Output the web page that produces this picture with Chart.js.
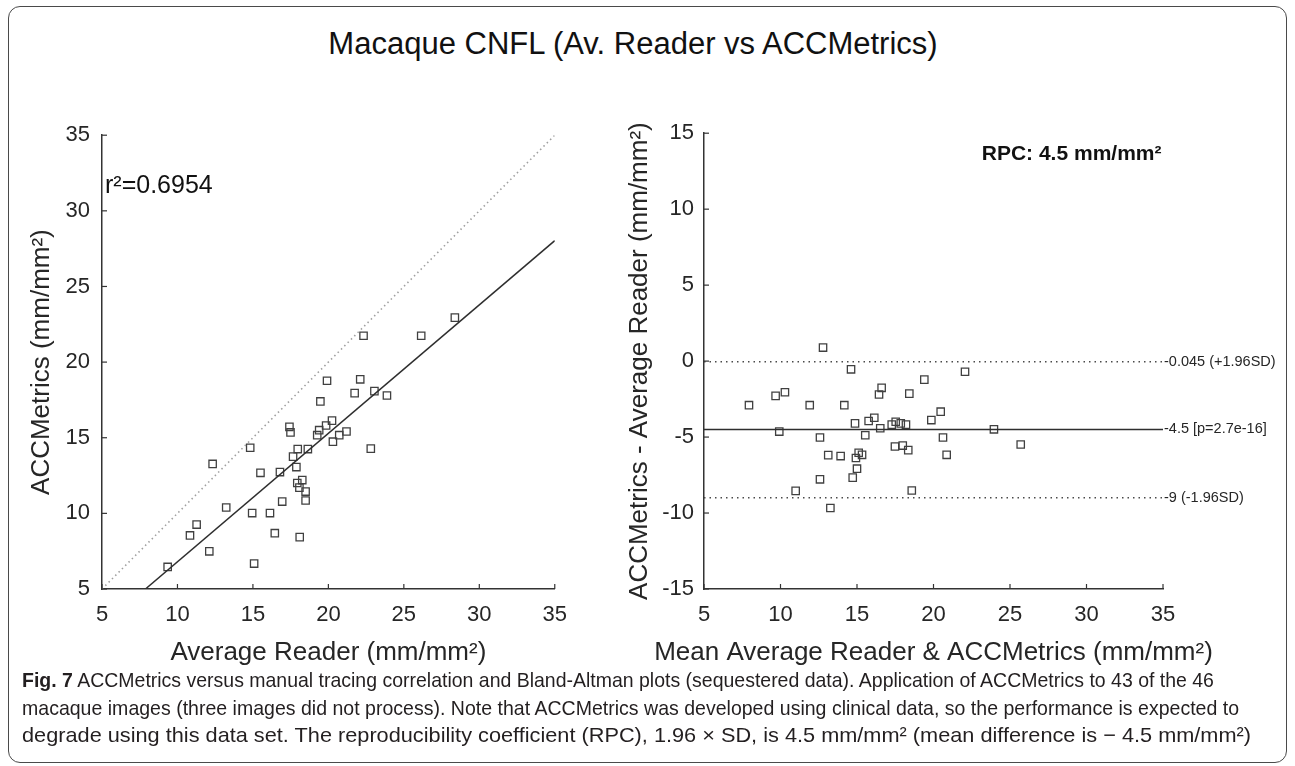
<!DOCTYPE html>
<html><head><meta charset="utf-8">
<script src="https://cdn.jsdelivr.net/npm/chart.js@4.4.1/dist/chart.umd.min.js"></script>
<style>
html,body{margin:0;padding:0;background:#fff;}
#wrap{position:relative;width:1295px;height:766px;overflow:hidden;font-family:"Liberation Sans",Arial,sans-serif;background:#fff;}
#frame{position:absolute;left:8px;top:6px;width:1279px;height:757px;border:1.5px solid #4a4a4a;border-radius:12px;box-sizing:border-box;}
#title{position:absolute;left:0;width:1266px;top:26px;text-align:center;font-size:31px;color:#111;line-height:36px;}
#c1{position:absolute;left:0;top:110px;}
#c2{position:absolute;left:620px;top:110px;}
.cap{position:absolute;left:22px;font-family:"Liberation Sans Narrow","Liberation Sans",Arial,sans-serif;font-size:21px;line-height:24px;white-space:nowrap;color:#231f20;transform-origin:0 50%;}
.cap b{font-weight:bold;}
</style>
</head><body>
<div id="wrap">
  <div id="frame"></div>
  <div id="title">Macaque CNFL (Av. Reader vs ACCMetrics)</div>
  <canvas id="c1" width="580" height="560"></canvas>
  <canvas id="c2" width="675" height="560"></canvas>
  <div class="cap" data-w="1192" style="top:668px"><b>Fig. 7</b> ACCMetrics versus manual tracing correlation and Bland-Altman plots (sequestered data). Application of ACCMetrics to 43 of the 46</div>
  <div class="cap" data-w="1217" style="top:696px">macaque images (three images did not process). Note that ACCMetrics was developed using clinical data, so the performance is expected to</div>
  <div class="cap" data-w="1229" style="top:723px">degrade using this data set. The reproducibility coefficient (RPC), 1.96 × SD, is 4.5 mm/mm² (mean difference is − 4.5 mm/mm²)</div>
</div>
<script>
// ---- Correlation plot data ----
const avgReader = [22.33,19.91,22.11,21.74,23.05,23.88,19.47,17.42,17.49,20.24,19.85,19.39,19.26,20.72,21.20,20.30,22.81,14.82,17.97,18.64,17.66,12.33,17.88,15.50,16.79,18.27,17.94,18.08,18.49,18.49,16.94,13.23,14.95,16.13,11.27,16.45,26.15,28.38,9.35,15.08,12.11,10.83,18.10];
const accMetrics = [21.74,18.77,18.86,17.95,18.08,17.79,17.40,15.72,15.35,16.13,15.81,15.50,15.17,15.17,15.41,14.74,14.28,14.34,14.25,14.25,13.75,13.27,13.06,12.68,12.73,12.20,12.01,11.70,11.44,10.85,10.78,10.39,10.02,10.02,9.26,8.69,21.74,22.94,6.46,6.68,7.49,8.54,8.43];
const identityX = [5,35];
const identityY = [5,35];
const fitX = [7.88,35];
const fitY = [5,28.03];
const corrTicks = [5,10,15,20,25,30,35];
const r2Label = "r²=0.6954";

// ---- Bland-Altman data ----
const baMean = [12.78,14.61,16.61,16.44,10.29,9.68,7.94,11.91,14.17,16.13,15.76,14.87,17.27,17.53,16.52,9.92,15.54,12.58,17.48,13.12,13.93,15.11,15.33,14.93,15.00,14.72,12.58,10.99,13.26,22.06,19.40,18.42,20.47,19.86,17.86,18.20,23.95,20.62,25.70,17.99,18.35,20.86,18.58];
const baDiff = [0.89,-0.54,-1.76,-2.20,-2.05,-2.29,-2.90,-2.90,-2.90,-3.73,-3.94,-4.10,-4.18,-3.99,-4.42,-4.64,-4.88,-5.03,-5.62,-6.19,-6.25,-6.03,-6.17,-6.38,-7.08,-7.67,-7.78,-8.54,-9.67,-0.70,-1.22,-2.14,-3.33,-3.88,-4.10,-4.18,-4.49,-5.03,-5.49,-5.56,-5.86,-6.17,-8.52];
const baLineX = [5,35];
const loaValues = [-0.045,-4.5,-9];
const loaLabels = ["-0.045 (+1.96SD)","-4.5 [p=2.7e-16]","-9 (-1.96SD)"];
const baXTicks = [5,10,15,20,25,30,35];
const baYTicks = [-15,-10,-5,0,5,10,15];
const rpcLabel = "RPC: 4.5 mm/mm²";

const FONT = '"Liberation Sans", Arial, sans-serif';
const AXC = '#333333';
const TXT = '#262626';

const inwardTicks = {
  id: 'inwardTicks',
  afterDraw(chart) {
    const ctx = chart.ctx, a = chart.chartArea;
    const xs = chart.scales.x, ys = chart.scales.y;
    ctx.save();
    ctx.strokeStyle = AXC; ctx.lineWidth = 1.2;
    xs.ticks.forEach(t => { const p = xs.getPixelForValue(t.value); ctx.beginPath(); ctx.moveTo(p, a.bottom); ctx.lineTo(p, a.bottom - 5); ctx.stroke(); });
    ys.ticks.forEach(t => { const p = ys.getPixelForValue(t.value); ctx.beginPath(); ctx.moveTo(a.left, p); ctx.lineTo(a.left + 5, p); ctx.stroke(); });
    ctx.restore();
    const o = chart.options.plugins.notes || {};
    if (o.axisTitles) {
      const t = o.axisTitles;
      ctx.save();
      ctx.fillStyle = TXT; ctx.font = '26px ' + FONT; ctx.textAlign = 'center'; ctx.textBaseline = 'middle';
      ctx.fillText(t.x, (a.left + a.right) / 2, a.bottom + t.xGap);
      ctx.translate(a.left - t.yGap, (a.top + a.bottom) / 2);
      ctx.rotate(-Math.PI / 2);
      ctx.fillText(t.y, 0, 0);
      ctx.restore();
    }
    (o.items || []).forEach(it => {
      ctx.save();
      ctx.fillStyle = it.color || '#111';
      ctx.font = it.font;
      ctx.textAlign = it.align || 'left';
      ctx.textBaseline = 'middle';
      const x = it.px !== undefined ? a.right + it.px : xs.getPixelForValue(it.x);
      ctx.fillText(it.text, x, ys.getPixelForValue(it.y));
      ctx.restore();
    });
  }
};

function axis(min, max, ticks, isY, size, tickPad) {
  return {
    type: 'linear', min, max,
    afterBuildTicks(s) { s.ticks = ticks.map(v => ({value: v})); },
    ticks: { color: TXT, font: {family: FONT, size: 22}, padding: tickPad, autoSkip: false, maxRotation: 0 },
    grid: { display: false, drawTicks: false },
    border: { display: true, color: AXC, width: 1.5 },
    title: { display: false },
    afterFit(s) { if (isY) s.width = size; else s.height = size; }
  };
}

const squareStyle = { pointStyle: 'rect', pointRadius: 5.2, pointHoverRadius: 5.2, backgroundColor: 'rgba(0,0,0,0)', borderColor: '#404040', borderWidth: 1.3, showLine: false };

new Chart(document.getElementById('c1'), {
  type: 'scatter',
  data: { datasets: [
    { type: 'line', data: identityX.map((x, i) => ({x, y: identityY[i]})), borderColor: '#a0a0a0', borderWidth: 1.6, borderDash: [1.5, 3.2], pointRadius: 0, fill: false },
    { type: 'line', data: fitX.map((x, i) => ({x, y: fitY[i]})), borderColor: '#2e2e2e', borderWidth: 1.5, pointRadius: 0, fill: false },
    Object.assign({ data: avgReader.map((x, i) => ({x, y: accMetrics[i]})) }, squareStyle)
  ]},
  options: {
    responsive: false, animation: false, events: [],
    layout: { padding: { top: 21, right: 20, bottom: 0, left: 0 } },
    plugins: { legend: {display: false}, tooltip: {enabled: false},
      notes: {
        axisTitles: { x: 'Average Reader (mm/mm²)', y: 'ACCMetrics (mm/mm²)', xGap: 64, yGap: 60 },
        items: [ { text: r2Label, x: 5.2, y: 31.65, font: '25px ' + FONT, align: 'left', color: '#111' } ] } },
    scales: {
      x: axis(5, 35, corrTicks, false, 81, 13),
      y: axis(5, 35, corrTicks, true, 102, 12)
    }
  },
  plugins: [inwardTicks]
});

const dotted = { borderColor: '#4a4a4a', borderWidth: 1.5, borderDash: [1.5, 4], pointRadius: 0, fill: false };
new Chart(document.getElementById('c2'), {
  type: 'scatter',
  data: { datasets: [
    Object.assign({ type: 'line', data: baLineX.map(x => ({x, y: loaValues[0]})) }, dotted),
    { type: 'line', data: baLineX.map(x => ({x, y: loaValues[1]})), borderColor: '#2e2e2e', borderWidth: 1.5, pointRadius: 0, fill: false },
    Object.assign({ type: 'line', data: baLineX.map(x => ({x, y: loaValues[2]})) }, dotted),
    Object.assign({ data: baMean.map((x, i) => ({x, y: baDiff[i]})) }, squareStyle)
  ]},
  options: {
    responsive: false, animation: false, events: [],
    layout: { padding: { top: 21, right: 132, bottom: 0, left: 0 } },
    plugins: { legend: {display: false}, tooltip: {enabled: false},
      notes: {
        axisTitles: { x: 'Mean Average Reader & ACCMetrics (mm/mm²)', y: 'ACCMetrics - Average Reader (mm/mm²)', xGap: 64, yGap: 64 },
        items: [
          { text: rpcLabel, x: 34.9, y: 13.6, font: 'bold 21px ' + FONT, align: 'right', color: '#111' },
          ...loaValues.map((v, i) => ({ text: loaLabels[i], px: 1, y: v, font: '14.5px ' + FONT, align: 'left', color: TXT }))
        ] } },
    scales: {
      x: axis(5, 35, baXTicks, false, 81, 13),
      y: axis(-15, 15, baYTicks, true, 84, 10)
    }
  },
  plugins: [inwardTicks]
});

// fit caption lines to the reference line lengths
document.querySelectorAll('.cap').forEach(el => {
  const w = el.getBoundingClientRect().width;
  const target = +el.dataset.w;
  if (w > 0) el.style.transform = 'scaleX(' + (target / w).toFixed(4) + ')';
});
</script>
</body></html>
